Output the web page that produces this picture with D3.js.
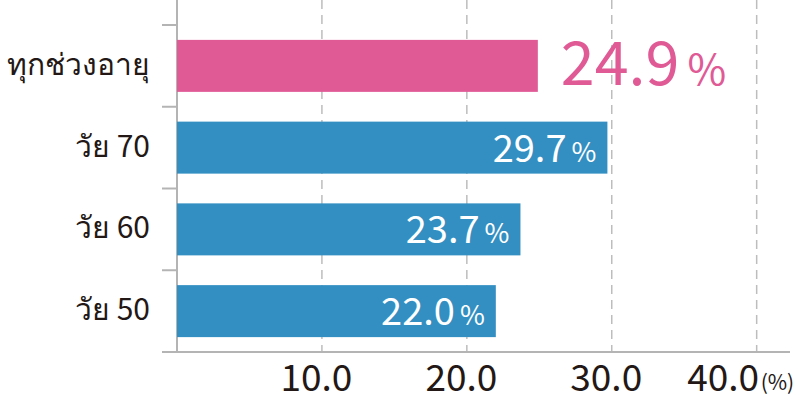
<!DOCTYPE html>
<html>
<head>
<meta charset="utf-8">
<script src="https://cdn.jsdelivr.net/npm/d3@7"></script>
<style>
  body { margin: 0; background: #fff; }
  svg { display: block; }
  text { font-family: "Noto Sans CJK JP", "Noto Sans", sans-serif; }
</style>
</head>
<body>
<div id="chart"></div>
<script>
// DATA
const categories = ["ทุกช่วงอายุ", "วัย 70", "วัย 60", "วัย 50"]
const values = [24.9, 29.7, 23.7, 22.0]
const tickValues = [10, 20, 30, 40]
const tickLabels = ["10.0", "20.0", "30.0", "40.0"]

const width = 800, height = 396

const svg = d3.select("#chart").append("svg")
  .attr("width", width)
  .attr("height", height)

const xScale = d3.scaleLinear()
  .domain([0, 42.3])
  .range([177, 790])

const yScale = d3.scaleBand()
  .domain(categories)
  .range([25, 352])
  .paddingInner(0.364)
  .paddingOuter(0.182)

const axisGray = "#b4b4b4"

// grid lines (dashed)
svg.append("g")
  .selectAll("line")
  .data(tickValues)
  .join("line")
    .attr("x1", d => xScale(d))
    .attr("x2", d => xScale(d))
    .attr("y1", 0)
    .attr("y2", 352)
    .attr("stroke", "#bdbdbd")
    .attr("stroke-width", 1.5)
    .attr("stroke-dasharray", "9,6")

// left axis line + tick marks between bands
svg.append("line")
  .attr("x1", 177).attr("x2", 177)
  .attr("y1", 0).attr("y2", 352)
  .attr("stroke", axisGray).attr("stroke-width", 2)

const bounds = categories.map(c => yScale(c) - yScale.step() * yScale.paddingInner() / 2)
svg.append("g")
  .selectAll("line")
  .data(bounds)
  .join("line")
    .attr("x1", 162).attr("x2", 177)
    .attr("y1", d => d).attr("y2", d => d)
    .attr("stroke", axisGray).attr("stroke-width", 2)

// bottom axis
const xAxis = d3.axisBottom(xScale)
  .tickValues(tickValues)
  .tickSize(0)
  .tickFormat((d, i) => tickLabels[i])

const gx = svg.append("g")
  .attr("transform", "translate(0,352)")
  .call(xAxis)
gx.select(".domain").remove()
gx.selectAll(".tick text")
  .attr("font-size", 37)
  .attr("fill", "#231815")
  .attr("y", 39)
  .attr("dy", 0)
  .attr("x", (d, i) => i === tickValues.length - 1 ? -34 : -6)

svg.append("line")
  .attr("x1", 162).attr("x2", 790)
  .attr("y1", 352).attr("y2", 352)
  .attr("stroke", axisGray).attr("stroke-width", 2)

svg.append("text")
  .attr("x", xScale(40) + 4)
  .attr("y", 390)
  .attr("font-size", 21)
  .attr("fill", "#231815")
  .text("(%)")

// category labels
svg.append("g")
  .selectAll("text")
  .data(categories)
  .join("text")
    .attr("x", 150)
    .attr("y", d => yScale(d) + yScale.bandwidth() / 2)
    .attr("dy", "0.3em")
    .attr("text-anchor", "end")
    .attr("font-size", 30)
    .attr("fill", "#231815")
    .text(d => d)

// bars
svg.append("g")
  .selectAll("rect")
  .data(values)
  .join("rect")
    .attr("x", xScale(0))
    .attr("y", (d, i) => yScale(categories[i]))
    .attr("width", d => xScale(d) - xScale(0))
    .attr("height", yScale.bandwidth())
    .attr("fill", (d, i) => i === 0 ? "#e05a96" : "#338fc2")

// value labels
const labels = svg.append("g")
  .selectAll("text")
  .data(values)
  .join("text")
    .attr("x", (d, i) => i === 0 ? xScale(d) + 23 : xScale(d) - 11)
    .attr("y", (d, i) => yScale(categories[i]) + yScale.bandwidth() / 2)
    .attr("dy", (d, i) => i === 0 ? "0.31em" : "0.37em")
    .attr("text-anchor", (d, i) => i === 0 ? "start" : "end")
    .attr("fill", (d, i) => i === 0 ? "#e05a96" : "#ffffff")
    .attr("font-size", (d, i) => i === 0 ? 61 : 38)

labels.append("tspan").text(d => d.toFixed(1))
labels.append("tspan")
  .attr("dx", (d, i) => i === 0 ? 8 : 5)
  .attr("font-size", (d, i) => i === 0 ? 42 : 27)
  .text("%")
</script>
</body>
</html>
